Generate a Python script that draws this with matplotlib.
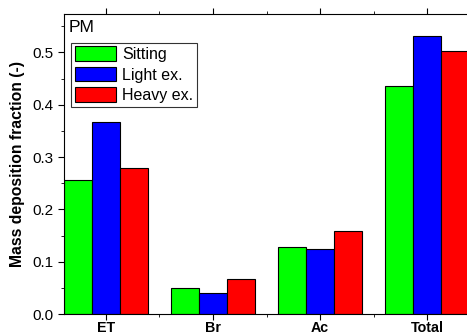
import matplotlib.pyplot as plt
import numpy as np
from matplotlib.ticker import MultipleLocator

plt.rcParams['font.family'] = ['Liberation Sans', 'DejaVu Sans']

regions = ['ET', 'Br', 'Ac', 'Total']
sitting = [0.257, 0.050, 0.129, 0.435]
light = [0.367, 0.041, 0.125, 0.532]
heavy = [0.280, 0.066, 0.158, 0.502]
labels = ['Sitting', 'Light ex.', 'Heavy ex.']

fig = plt.figure(figsize=(4.67, 3.34), dpi=100)
# axes runs a little past the right edge, as in the original
ax = fig.add_axes([64/467, 20/334, 405/467, 300/334])

x = np.arange(len(regions))
w = 0.26
for i, (vals, col, lab) in enumerate(zip([sitting, light, heavy],
                                          ['#00ff00', '#0000ff', '#ff0000'], labels)):
    ax.bar(x + (i - 1) * w, vals, w, color=col, edgecolor='black',
           linewidth=0.8, label=lab)

ax.set_xlim(-0.39, 3.39)
ax.set_ylim(0, 0.5736)
ax.set_xticks(x)
ax.set_xticklabels(regions, fontweight='bold', fontsize=10.3)
ax.set_xticks(x[:-1] + 0.5, minor=True)
ax.yaxis.set_major_locator(MultipleLocator(0.1))
ax.yaxis.set_minor_locator(MultipleLocator(0.05))
ax.tick_params(axis='y', labelsize=11, direction='out', length=4)
ax.tick_params(axis='y', which='minor', length=2)
ax.tick_params(axis='x', which='major', direction='out', length=4, pad=1)
ax.tick_params(axis='x', which='minor', direction='out', length=2)
ax.tick_params(top=True, which='both')
ax.spines['right'].set_visible(False)
ax.set_ylabel('Mass deposition fraction (-)', fontweight='bold', fontsize=11.3)
ax.yaxis.set_label_coords(-0.097, 0.5)

ax.text(0.012, 0.98, 'PM', transform=ax.transAxes, fontsize=12.5, va='top')
leg = ax.legend(loc='upper left', bbox_to_anchor=(0.017, 0.905), fontsize=11.5,
                frameon=True, fancybox=False, edgecolor='black',
                handlelength=2.6, handleheight=1.0, handletextpad=0.35,
                borderpad=0.25, labelspacing=0.3, borderaxespad=0)
leg.get_frame().set_linewidth(0.8)

fig.savefig('out.png', dpi=100)
